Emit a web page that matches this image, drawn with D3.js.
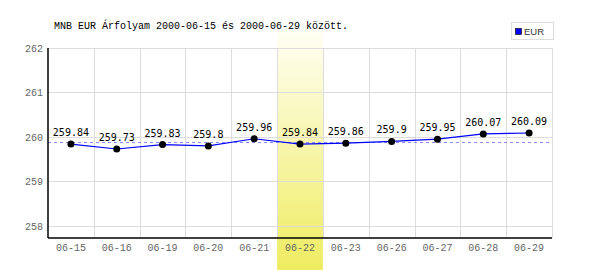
<!DOCTYPE html>
<html>
<head>
<meta charset="utf-8">
<script src="https://cdn.jsdelivr.net/npm/d3@7"></script>
<style>
body{margin:0;background:#fff;}
svg{display:block;}
</style>
</head>
<body>
<svg id="chart"></svg>
<script>
// data
let days=['06-15','06-16','06-19','06-20','06-21','06-22','06-23','06-26','06-27','06-28','06-29'];
let eur=[259.84,259.73,259.83,259.8,259.96,259.84,259.86,259.9,259.95,260.07,260.09];
let yTicks=[258,259,260,261,262];
let highlightDay='06-22';
let title='MNB EUR Árfolyam 2000-06-15 és 2000-06-29 között.';

window.onload=drawChart();

function drawChart(){
    let W=600,H=270;
    const margin={top:48,right:48,bottom:32,left:48};
    const width=W-margin.left-margin.right;
    const height=H-margin.top-margin.bottom;
    const svg=d3.select('#chart').attr('width',W).attr('height',H);

    var x=d3.scaleBand().domain(days).range([0,width]).padding(0);
    var y=d3.scaleLinear().domain([257.73,262]).range([height,0]);

    var defs=svg.append('defs');
    var grad=defs.append('linearGradient').attr('id','hl').attr('x1',0).attr('y1',0).attr('x2',0).attr('y2',1);
    grad.append('stop').attr('offset','0%').attr('stop-color','#fffff6');
    grad.append('stop').attr('offset','50%').attr('stop-color','#f7f5a8');
    grad.append('stop').attr('offset','100%').attr('stop-color','#eeec60');

    var g=svg.append('g').attr('transform','translate('+margin.left+','+margin.top+')');

    // highlighted day, runs from above the plot to the bottom of the picture
    g.append('rect')
     .attr('x',x(highlightDay))
     .attr('y',-18)
     .attr('width',x.bandwidth())
     .attr('height',H-margin.top+18)
     .attr('fill','url(#hl)');

    // grid
    g.selectAll('.hgrid').data(yTicks).enter().append('line')
     .attr('class','hgrid')
     .attr('x1',0).attr('x2',width)
     .attr('y1',d=>Math.round(y(d))+0.5).attr('y2',d=>Math.round(y(d))+0.5)
     .attr('stroke','#dcdcdc').attr('stroke-width',1);
    g.selectAll('.vgrid').data(days.slice(1).concat(['end'])).enter().append('line')
     .attr('class','vgrid')
     .attr('x1',d=>Math.round(d=='end'?width:x(d))+0.5).attr('x2',d=>Math.round(d=='end'?width:x(d))+0.5)
     .attr('y1',y(262)).attr('y2',height)
     .attr('stroke','#dcdcdc').attr('stroke-width',1);

    // average line
    let avg=d3.mean(eur);
    g.append('line')
     .attr('x1',0).attr('x2',width)
     .attr('y1',Math.round(y(avg))+0.5).attr('y2',Math.round(y(avg))+0.5)
     .attr('stroke','#8c8cff').attr('stroke-width',1).attr('stroke-dasharray','3,3');

    // axes
    var yAxis=g.append('g').call(d3.axisLeft(y).tickValues(yTicks).tickFormat(d3.format('d')).tickSize(0).tickPadding(5));
    yAxis.select('.domain').remove();
    yAxis.selectAll('text').attr('fill','#666').style('font-family','Liberation Mono, DejaVu Sans Mono, monospace').style('font-size','10px');

    var xAxis=g.append('g').attr('transform','translate(0,'+height+')').call(d3.axisBottom(x).tickSize(0).tickPadding(6));
    xAxis.select('.domain').remove();
    xAxis.selectAll('text').attr('fill','#666').style('font-family','Liberation Mono, DejaVu Sans Mono, monospace').style('font-size','10px');

    g.append('line').attr('x1',0).attr('x2',0).attr('y1',0).attr('y2',height).attr('stroke','#000').attr('stroke-width',1.5);
    g.append('line').attr('x1',0).attr('x2',width).attr('y1',height).attr('y2',height).attr('stroke','#000').attr('stroke-width',1.5);

    // series
    var line=d3.line().x((d,i)=>x(days[i])+x.bandwidth()/2).y(d=>y(d));
    g.append('path').datum(eur).attr('d',line).attr('fill','none').attr('stroke','#0000ff').attr('stroke-width',1.2);

    g.selectAll('.pt').data(eur).enter().append('circle')
     .attr('class','pt')
     .attr('cx',(d,i)=>x(days[i])+x.bandwidth()/2)
     .attr('cy',d=>y(d))
     .attr('r',3.5)
     .attr('fill','#000');

    g.selectAll('.val').data(eur).enter().append('text')
     .attr('class','val')
     .attr('x',(d,i)=>x(days[i])+x.bandwidth()/2)
     .attr('y',d=>y(d)-8)
     .attr('text-anchor','middle')
     .style('font-family','DejaVu Sans Mono, monospace')
     .style('font-size','10px')
     .attr('fill','#000')
     .text(d=>d);

    // title
    svg.append('text').attr('x',54).attr('y',29)
     .style('font-family','Liberation Mono, DejaVu Sans Mono, monospace')
     .style('font-size','10px')
     .attr('fill','#000')
     .text(title);

    // legend
    var lg=svg.append('g').attr('transform','translate(511,22)');
    lg.append('rect').attr('x',0.5).attr('y',0.5).attr('width',42).attr('height',17).attr('fill','#fff').attr('stroke','#dcdcdc');
    lg.append('rect').attr('x',4.5).attr('y',6.5).attr('width',6).attr('height',6).attr('fill','#0000ff').attr('stroke','#000').attr('stroke-width',0.6);
    lg.append('text').attr('x',13).attr('y',13).style('font-family','Liberation Sans, DejaVu Sans, sans-serif').style('font-size','9.5px').attr('fill','#333').text('EUR');
}
</script>
</body>
</html>
